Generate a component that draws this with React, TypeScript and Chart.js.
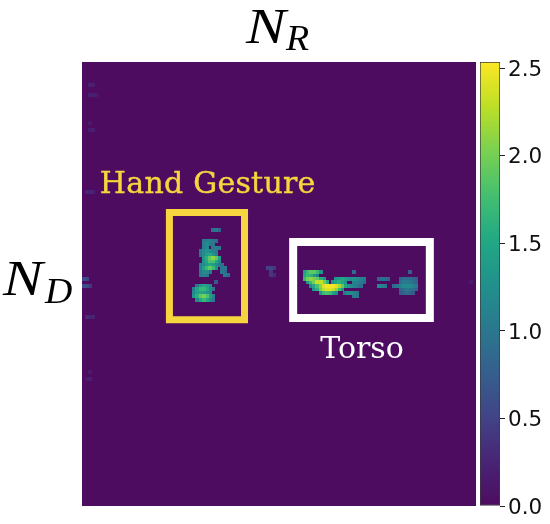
import React, { useEffect, useRef } from "react";
import { Chart, registerables } from "chart.js";

Chart.register(...registerables);

const rowCount = 128;
const colCount = 128;
const colorbarMax = 2.536;
const colorbarTicks = [0, 0.5, 1, 1.5, 2, 2.5];

// each row: [Doppler row, first range column, ...cell magnitudes] (0 = below threshold)
const handRows: number[][] = [
  [48, 42, 0.9, 1.0, 0.8],
  [51, 39, 1.0, 1.1, 1.1, 1.0, 0.9],
  [52, 39, 1.1, 1.2, 1.0, 1.0],
  [53, 39, 1.1, 1.2, 0, 1.0, 1.1, 1.0],
  [54, 38, 1.0, 1.2, 1.3, 1.2, 1.1, 1.0],
  [55, 38, 1.0, 1.2, 1.4, 1.5, 1.3, 1.1],
  [56, 38, 0, 1.3, 1.6, 1.9, 2.1, 1.9, 1.4],
  [57, 38, 0, 1.3, 1.5, 1.8, 1.8, 1.5, 1.2],
  [58, 38, 1.1, 1.2, 1.4, 1.5, 1.4, 1.2, 1.0, 0.9],
  [59, 38, 1.1, 1.4, 1.7, 1.9, 1.7, 1.3, 0, 1.0, 1.0],
  [60, 38, 1.0, 1.2, 1.2, 1.0, 0, 0, 0, 1.0, 0.9],
  [61, 38, 1.0, 1.1, 1.0, 0, 0, 0, 0, 0, 1.0, 0.9],
  [63, 43, 0.7],
  [64, 37, 1.0, 1.3, 1.5, 1.4, 1.2],
  [65, 36, 1.1, 1.5, 1.7, 1.7, 1.5, 1.2, 1.0],
  [66, 36, 1.2, 1.4, 1.5, 1.4, 1.3, 1.2],
  [67, 36, 1.3, 1.6, 1.9, 2.0, 1.8, 1.4, 1.1],
  [68, 37, 1.2, 1.5, 1.7, 1.5, 1.2, 1.0],
];

const torsoRows: number[][] = [
  [60, 72, 1.4, 1.7, 1.9, 1.9, 1.7, 1.3],
  [60, 88, 0.9],
  [60, 106, 0.8],
  [61, 72, 1.5, 1.7, 1.6, 1.3, 1.1],
  [62, 72, 1.7, 2.0, 2.1, 2.0, 1.9, 1.6, 1.3],
  [62, 82, 1.3, 1.4, 1.5, 1.4, 1.3, 1.2, 1.3, 1.2, 1.1, 1.0],
  [62, 96, 0.8, 0.9, 0.9, 0.8],
  [62, 103, 0.8, 0.9, 0.9, 0.9, 0.8, 0.7],
  [63, 73, 1.3, 1.7, 2.0, 2.3, 2.3, 2.0, 1.6, 0, 1.3, 1.5, 1.6, 1.5, 1.3, 0, 0, 1.1, 1.1, 1.0, 0.9],
  [63, 103, 0.9, 1.0, 1.0, 1.0, 0.9, 0.8],
  [64, 74, 1.2, 1.5, 1.8, 2.1, 2.4, 2.5, 2.5, 2.5, 2.4, 2.2, 1.9, 1.5, 1.3, 1.2, 1.1, 1.0, 0.9],
  [64, 96, 1.2, 1.1, 1.0],
  [64, 101, 0.9, 1.0, 1.1, 1.2, 1.2, 1.2, 1.1, 1.0],
  [65, 75, 1.3, 1.6, 2.0, 2.3, 2.4, 2.4, 2.3, 2.1, 1.7, 1.3],
  [65, 103, 0.8, 0.9, 1.0, 0.9, 0.9, 0.8],
  [66, 77, 1.3, 1.7, 1.8, 1.7, 1.4, 1.2, 0, 0, 1.0, 1.2, 1.2, 1.1, 1.0],
  [66, 103, 0.7, 0.8, 0.9, 0.8, 0.7],
  [67, 88, 1.0, 1.0],
];

const noiseRows: number[][] = [
  [6, 2, 0.2, 0.2],
  [9, 2, 0.2, 0.2, 0.15],
  [17, 2, 0.15],
  [19, 2, 0.15, 0.2],
  [37, 1, 0.25, 0.25, 0.2],
  [59, 60, 0.5, 0.5, 0.4],
  [60, 61, 0.4],
  [61, 61, 0.4, 0.3],
  [62, 0, 0.55, 0.5],
  [63, 126, 0.15],
  [64, 0, 0.6, 0.55, 0.4],
  [73, 1, 0.3, 0.25, 0.25],
  [89, 2, 0.15],
  [91, 1, 0.15, 0.2],
];

const handBox = [[28.4, 43.4], [52.8, 43.4], [52.8, 74.3], [28.4, 74.3], [28.4, 43.4]];
const torsoBox = [[68.6, 51.9], [113, 51.9], [113, 73.8], [68.6, 73.8], [68.6, 51.9]];

const viridis = [
  "#4d0c60", "#482475", "#414487", "#355f8d", "#2a788e", "#21918c",
  "#22a884", "#44bf70", "#7ad151", "#bddf26", "#fde725",
];

const hex = (c: string) => [1, 3, 5].map((k) => parseInt(c.slice(k, k + 2), 16));
function colourOf(v: number) {
  const t = Math.min(1, Math.max(0, v / colorbarMax)) * (viridis.length - 1);
  const a = Math.min(viridis.length - 2, Math.floor(t));
  const [p, q] = [hex(viridis[a]), hex(viridis[a + 1])];
  const f = t - a;
  return `rgb(${p.map((n, k) => Math.round(n + (q[k] - n) * f)).join(",")})`;
}

const cellCache = new Map<string, HTMLCanvasElement>();
function cellImage(v: number) {
  const c = colourOf(v);
  let canvas = cellCache.get(c);
  if (!canvas) {
    canvas = document.createElement("canvas");
    canvas.width = 4;
    canvas.height = 4;
    const g = canvas.getContext("2d")!;
    g.fillStyle = c;
    g.fillRect(0, 0, 4, 4);
    cellCache.set(c, canvas);
  }
  return canvas;
}

const toCells = (rows: number[][]) =>
  rows.flatMap(([row, col, ...vals]) =>
    vals.flatMap((v, k) => (v > 0 ? [{ x: col + k + 0.5, y: row + 0.5, v }] : []))
  );

const sorted = (rows: number[][]) => toCells(rows).sort((a, b) => a.v - b.v);
const toLine = (pts: number[][]) => pts.map(([x, y]) => ({ x, y }));

const MATH = "'Liberation Serif', serif";

function wideText(ctx: CanvasRenderingContext2D, text: string, x: number, y: number, sx: number) {
  ctx.save();
  ctx.translate(x, y);
  ctx.scale(sx, 1);
  ctx.fillText(text, 0, 0);
  ctx.restore();
}

const labelsPlugin = {
  id: "labels",
  beforeDatasetsDraw(chart: any) {
    const { ctx, chartArea: a } = chart;
    ctx.save();
    ctx.fillStyle = "#4d0c60";
    ctx.fillRect(a.left, a.top, a.right - a.left, a.bottom - a.top);
    ctx.restore();
  },
  afterDatasetsDraw(chart: any) {
    const { ctx } = chart;
    ctx.save();
    ctx.textBaseline = "alphabetic";
    ctx.textAlign = "left";
    const sx = chart.scales.x;
    const sy = chart.scales.y;
    ctx.font = "30px 'DejaVu Serif', serif";
    ctx.letterSpacing = "0.25px";
    ctx.fillStyle = "#f6d53e";
    ctx.strokeStyle = "#f6d53e";
    ctx.lineWidth = 0.4;
    const hx = sx.getPixelForValue(5.8);
    const hy = sy.getPixelForValue(37.8);
    ctx.fillText("Hand Gesture", hx, hy);
    ctx.strokeText("Hand Gesture", hx, hy);
    ctx.letterSpacing = "0px";
    ctx.fillStyle = "#ffffff";
    ctx.fillText("Torso", sx.getPixelForValue(77.4), sy.getPixelForValue(85.3));
    ctx.fillStyle = "#000000";
    ctx.font = `italic 51px ${MATH}`;
    wideText(ctx, "N", 246, 43, 1.17);
    wideText(ctx, "N", 3, 295, 1.17);
    ctx.font = `italic 35px ${MATH}`;
    wideText(ctx, "R", 286, 50, 1.08);
    wideText(ctx, "D", 45, 303, 1.08);
    ctx.restore();
  },
};

const box = (pts: number[][], color: string, width: number) => ({
  type: "line" as const,
  data: toLine(pts),
  borderColor: color,
  borderWidth: width,
  borderJoinStyle: "miter" as const,
  borderCapStyle: "square" as const,
  pointRadius: 0,
  fill: false,
  tension: 0,
  clip: false,
});

const cells = (rows: number[][]) => ({
  type: "scatter" as const,
  data: sorted(rows),
  pointStyle: (c: any) => cellImage(c.raw ? c.raw.v : 0),
  pointRadius: 2,
  showLine: false,
});

export default function App() {
  const heatRef = useRef<HTMLCanvasElement>(null);
  const barRef = useRef<HTMLCanvasElement>(null);

  useEffect(() => {
    const heat = new Chart(heatRef.current!, {
      type: "scatter",
      data: {
        datasets: [
          cells(noiseRows),
          cells(handRows),
          cells(torsoRows),
          box(handBox, "#f6d53e", 7),
          box(torsoBox, "#ffffff", 8),
        ] as any,
      },
      options: {
        animation: false,
        responsive: false,
        events: [],
        layout: { padding: { left: 82, right: 74, top: 62, bottom: 18 } },
        plugins: { legend: { display: false }, tooltip: { enabled: false } },
        scales: {
          x: { type: "linear", display: false, min: 0, max: colCount },
          y: { type: "linear", display: false, min: 0, max: rowCount, reverse: true },
        },
      },
      plugins: [labelsPlugin],
    });

    const labelShift = 2 / 175; // moves the tick labels onto their tick marks
    const setTicks = (s: any) => {
      s.ticks = colorbarTicks.map((value) => ({ value }));
    };
    const bar = new Chart(barRef.current!, {
      type: "bar",
      data: {
        labels: ["scale"],
        datasets: [
          {
            data: [[0, colorbarMax]] as any,
            barPercentage: 1,
            categoryPercentage: 1,
            borderWidth: 1,
            borderColor: "#3a3a3a",
            borderSkipped: false,
            backgroundColor: (c: any) => {
              const area = c.chart.chartArea;
              if (!area) return viridis[0];
              const g = c.chart.ctx.createLinearGradient(0, area.bottom, 0, area.top);
              viridis.forEach((col, k) => g.addColorStop(k / (viridis.length - 1), col));
              return g;
            },
          },
        ],
      },
      options: {
        animation: false,
        responsive: false,
        events: [],
        layout: { padding: { left: 480, right: 0, top: 62, bottom: 18 } },
        plugins: { legend: { display: false }, tooltip: { enabled: false } },
        scales: {
          x: { display: false },
          y: {
            position: "right",
            min: 0,
            max: colorbarMax,
            afterBuildTicks: setTicks,
            afterFit: (s: any) => {
              s.width = 5;
            },
            grid: { drawOnChartArea: false, tickLength: 5, tickColor: "#222222", tickWidth: 1 },
            border: { display: false },
            ticks: { display: false },
          },
          labels: {
            position: "right",
            min: labelShift,
            max: colorbarMax + labelShift,
            afterBuildTicks: setTicks,
            afterFit: (s: any) => {
              s.width = 45;
            },
            grid: { display: false, drawTicks: false },
            border: { display: false },
            ticks: {
              padding: 3,
              color: "#111111",
              font: { family: "'DejaVu Sans', sans-serif", size: 21.5 },
              callback: (v: any) => Number(v).toFixed(1),
            },
          },
        },
      },
    });

    return () => {
      heat.destroy();
      bar.destroy();
    };
  }, []);

  const layer: React.CSSProperties = {
    position: "absolute",
    left: 0,
    top: 0,
    width: 550,
    height: 524,
    filter: "blur(0.5px)",
  };
  return (
    <div style={{ position: "absolute", left: 0, top: 0, width: 550, height: 524, background: "#fff" }}>
      <canvas ref={heatRef} width={550} height={524} style={layer} />
      <canvas ref={barRef} width={550} height={524} style={layer} />
    </div>
  );
}
